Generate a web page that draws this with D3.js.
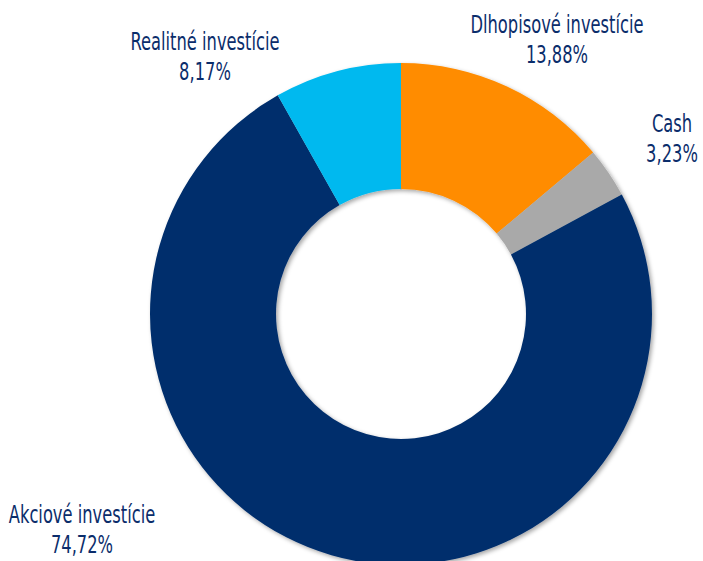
<!DOCTYPE html>
<html>
<head>
<meta charset="utf-8">
<script src="https://cdn.jsdelivr.net/npm/d3@7"></script>
<style>
  body { margin: 0; background: #fff; }
  svg text { font-family: "DejaVu Sans Condensed", "DejaVu Sans", sans-serif; fill: #0b2d6b; }
</style>
</head>
<body>
<div id="chart"></div>
<script>
var categories = ["Dlhopisové investície", "Cash", "Akciové investície", "Realitné investície"];
var values = [13.88, 3.23, 74.72, 8.17];
var valueLabels = ["13,88%", "3,23%", "74,72%", "8,17%"];
var colors = ["#ff8c00", "#a9a9a9", "#002f6c", "#00b9ef"];
// label anchor points (centre x, baseline of first line)
var labelPos = [[557, 33], [672, 132], [82, 523], [205, 50]];

var width = 703, height = 561,
    cx = 401, cy = 314,
    outerR = 251, innerR = 125;

var svg = d3.select("#chart").append("svg")
    .attr("width", width)
    .attr("height", height);

var defs = svg.append("defs");
var f = defs.append("filter").attr("id", "shadow")
    .attr("x", "-10%").attr("y", "-10%").attr("width", "120%").attr("height", "120%");
f.append("feDropShadow")
    .attr("dx", 2).attr("dy", 2).attr("stdDeviation", 2)
    .attr("flood-color", "#000").attr("flood-opacity", 0.35);

var pie = d3.pie().sort(null).value(function(d) { return d; });
var arc = d3.arc().innerRadius(innerR).outerRadius(outerR);

var g = svg.append("g")
    .attr("transform", "translate(" + cx + "," + cy + ")")
    .attr("filter", "url(#shadow)");

g.selectAll("path")
    .data(pie(values))
  .enter().append("path")
    .attr("d", arc)
    .attr("fill", function(d, i) { return colors[i]; });

// narrow the font horizontally to look like the condensed face of the original
var lbl = svg.append("g").selectAll("text")
    .data(categories)
  .enter().append("text")
    .attr("text-anchor", "middle")
    .attr("font-size", 24.5)
    .attr("transform", function(d, i) {
      return "translate(" + labelPos[i][0] + "," + labelPos[i][1] + ") scale(0.74,1)";
    });

lbl.append("tspan").attr("x", 0).attr("y", 0).text(function(d) { return d; });
lbl.append("tspan").attr("x", 0).attr("y", 30.5).text(function(d, i) { return valueLabels[i]; });
</script>
</body>
</html>
